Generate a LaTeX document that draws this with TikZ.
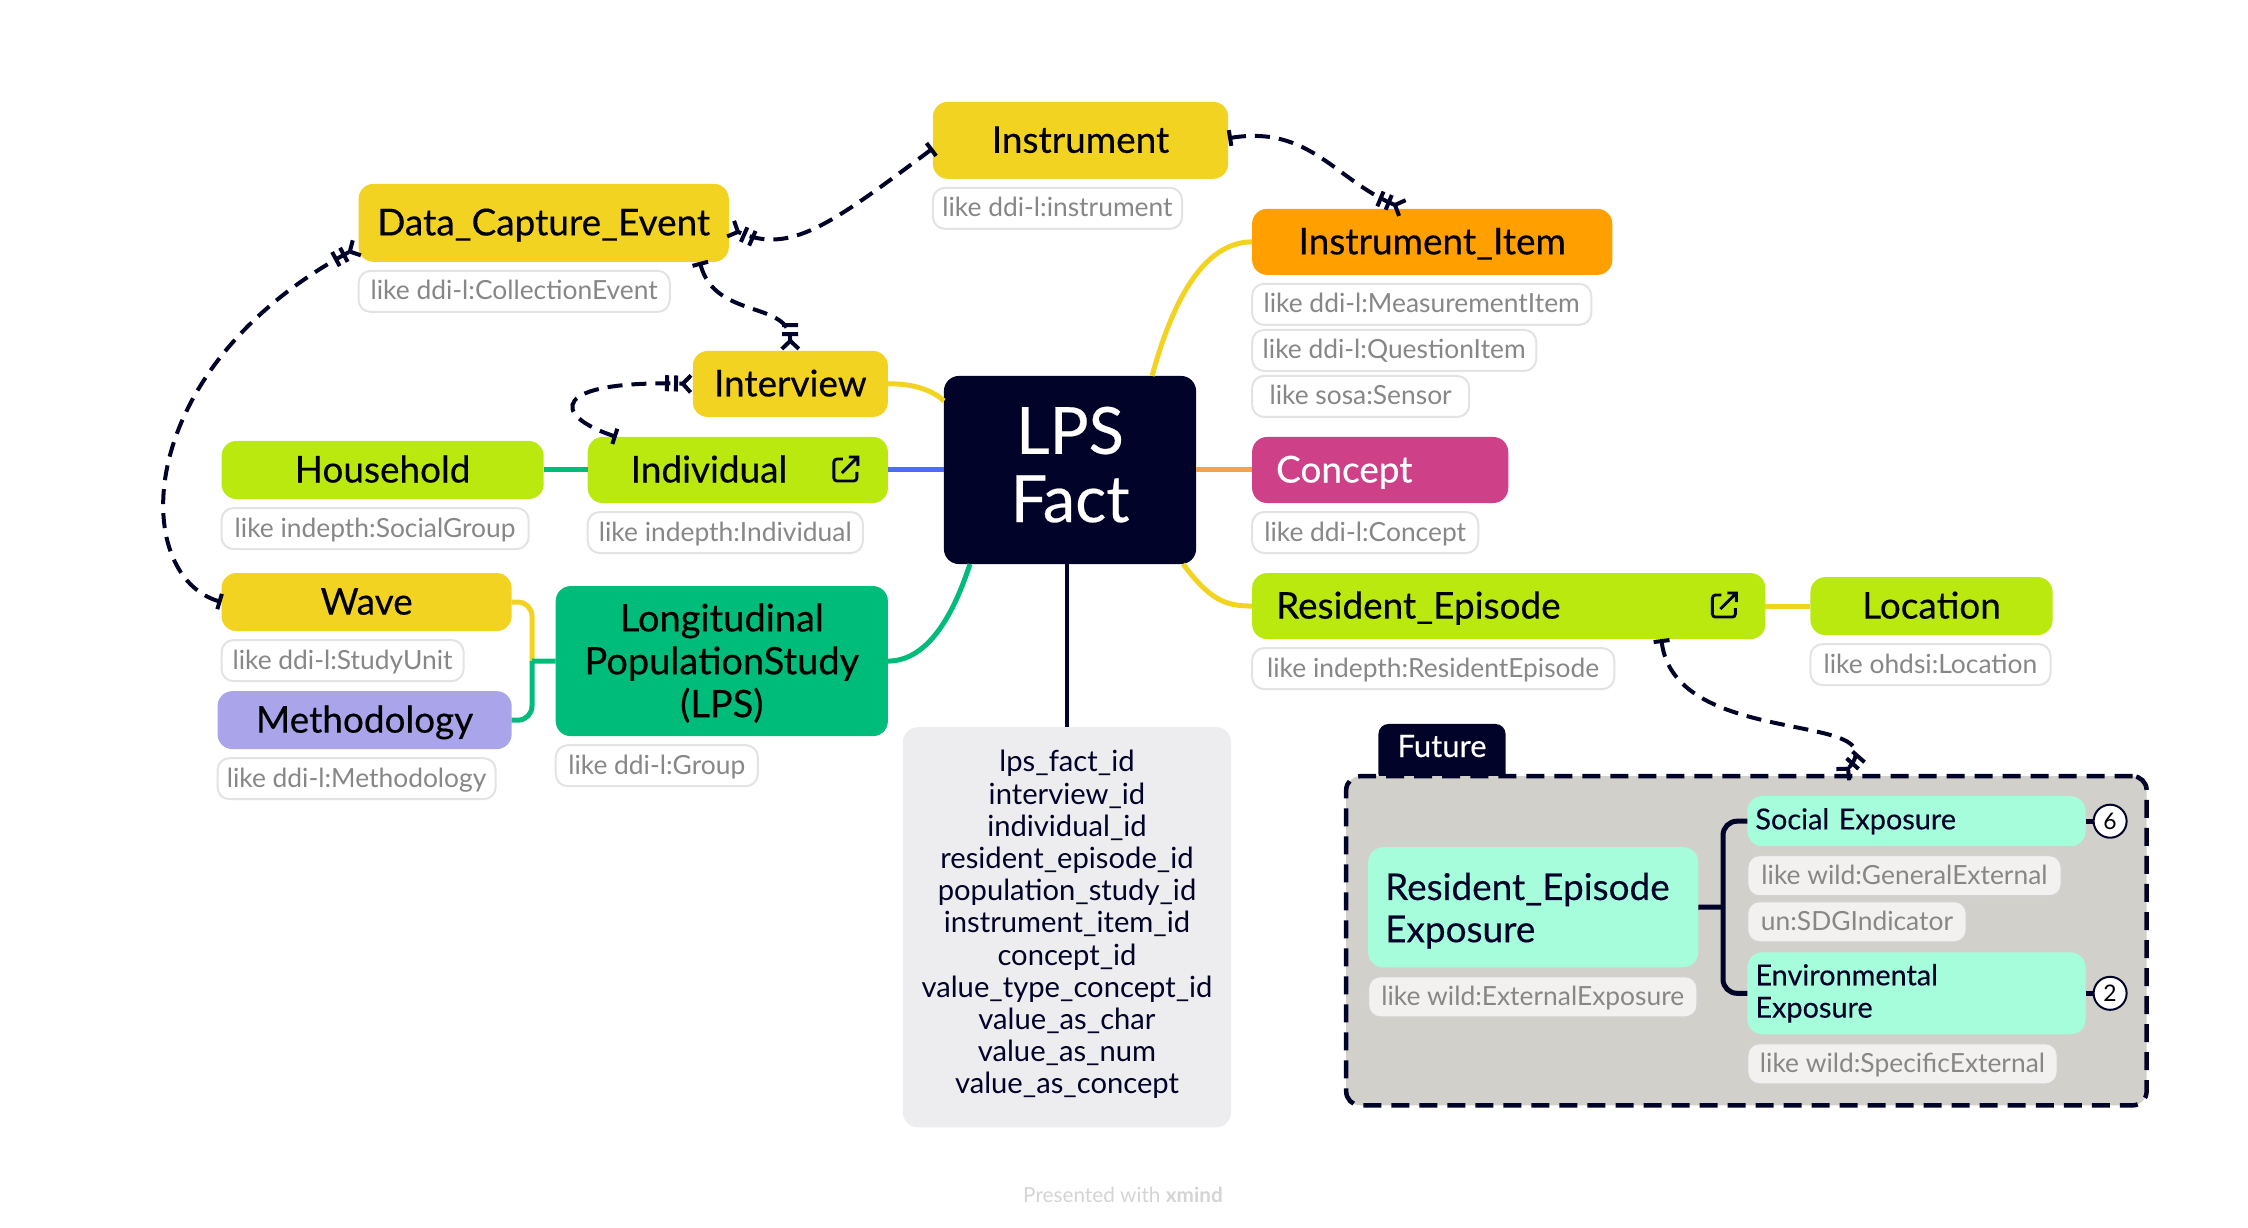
\documentclass[tikz,border=0pt]{standalone}
\usepackage{fontspec}
\setmainfont{Lato}
\newfontfamily\topicfont[FakeBold=0.35]{Lato}
\usetikzlibrary{positioning,arrows.meta}

\definecolor{navy}{HTML}{020329}
\definecolor{topicyellow}{HTML}{F3D321}
\definecolor{topiclime}{HTML}{B9E90E}
\definecolor{topicgreen}{HTML}{00BC7B}
\definecolor{topicorange}{HTML}{FF9F00}
\definecolor{topicpink}{HTML}{CE4189}
\definecolor{topicpurple}{HTML}{AAA5EB}
\definecolor{topicmint}{HTML}{A6FDDB}
\definecolor{linkblue}{HTML}{4D6BFF}
\definecolor{linkorange}{HTML}{F4A14E}
\definecolor{fieldgray}{HTML}{EDECEF}
\definecolor{framegray}{HTML}{D1D0CB}
\definecolor{notegray}{HTML}{F2F1EF}

\begin{document}
\begin{tikzpicture}[
x=.01cm,y=-.01cm,
crow/.tip={Bar[width=.16cm,length=.03cm,sep=.05cm]Bar[width=.16cm,length=.03cm,sep=.02cm]Straight Barb[reversed,length=.08cm,width=.17cm,sep=0pt]},
onebar/.tip={Bar[width=.16cm,length=.03cm]},
topic/.style={
fill=#1,
rounded corners=.15cm,
inner sep=0pt,
outer sep=0pt,
align=center,
font=\topicfont\fontsize{10.5}{12.2}\selectfont
},
linetopic/.style={
topic=#1,
text height=.25cm,
text depth=0pt
},
lefttopic/.style={
align=left,
text width=#1,
inner xsep=.24cm
},
note/.style={
draw=black!11,
fill=white,
line width=.02cm,
rounded corners=.12cm,
text=black!47,
inner sep=0pt,
outer sep=0pt,
minimum height=.41cm,
text height=.17cm,
text depth=0pt,
font=\fontsize{7.5}{9}\selectfont,
below=.09cm of #1,
anchor=north west
},
stacknote/.style={
note=#1,
below=.05cm of #1,
anchor=north west
},
darknote/.style={
draw=black!18,
fill=notegray
},
smalltopic/.style={
topic=topicmint,
text=navy,
align=left,
inner xsep=.08cm,
font=\topicfont\fontsize{8.2}{9.2}\selectfont
},
countmark/.style={
circle,
draw=navy,
fill=white,
line width=.02cm,
inner sep=0pt,
outer sep=0pt,
minimum size=.33cm,
font=\fontsize{6.5}{8}\selectfont
},
branch/.style={draw=#1,line width=.05cm},
relation/.style={
draw=navy,
line width=.04cm,
dash pattern=on .15cm off .09cm,
{onebar}-{crow}
},
exticon/.pic={
\draw[navy,line width=.028cm,rounded corners=.03cm] (-2,-11) -- (-11,-11) -- (-11,11) -- (12,11) -- (12,2);
\draw[navy,line width=.028cm] (-3,3) -- (13,-13) (4,-13) -- (13,-13) -- (13,-4);
}
]
\useasboundingbox (0,0) rectangle (2248,1228);

% Centre
\node[topic=navy, text=white, minimum width=2.52cm, minimum height=1.88cm,
font=\topicfont\fontsize{18.5}{19.4}\selectfont] (fact) at (1070,470) {LPS\\Fact\\[-.57cm]};

% Left side
\node[linetopic=topiclime, lefttopic=2.14cm, inner xsep=.43cm, minimum width=3cm, minimum height=.66cm, left=.56cm of fact] (individual) {Individual};
\node[linetopic=topiclime, minimum width=3.22cm, minimum height=.58cm, left=.44cm of individual] (household) {Household};
\node[linetopic=topicyellow, minimum width=1.95cm, minimum height=.66cm, above=.2cm of individual.north east, anchor=south east] (interview) {Interview};
\node[linetopic=topicyellow, minimum width=3.7cm, minimum height=.78cm, above right=1.79cm and 1.37cm of household.north west] (dce) {Data\_Capture\_Event};
\node[topic=topicgreen, minimum width=3.32cm, minimum height=1.5cm, font=\topicfont\fontsize{10.8}{12.2}\selectfont, below left=.22cm and .56cm of fact.south west] (lps) {\rule{0pt}{.32cm}Longitudinal\\PopulationStudy\\(LPS)};
\node[linetopic=topicyellow, minimum width=2.9cm, minimum height=.58cm, above left=.3cm and .44cm of lps.west] (wave) {Wave};
\node[linetopic=topicpurple, minimum width=2.94cm, minimum height=.58cm, below left=.3cm and .44cm of lps.west] (methodology) {Methodology};
\coordinate (lpsfork) at (532,661);

% Right side
\node[linetopic=topicorange, minimum width=3.6cm, minimum height=.66cm, above right=1.01cm and .56cm of fact.north east] (item) {Instrument\_Item};
\node[linetopic=topicyellow, minimum width=2.95cm, minimum height=.77cm, above left=.3cm and .24cm of item.north west] (instrument) {Instrument};
\node[linetopic=topicpink, text=white, lefttopic=2.08cm, minimum width=2.56cm, minimum height=.66cm, right=.56cm of fact] (concept) {Concept};
\node[linetopic=topiclime, lefttopic=4.65cm, minimum width=5.13cm, minimum height=.66cm, below right=.09cm and .56cm of fact.south east] (episode) {Resident\_Episode};
\node[linetopic=topiclime, minimum width=2.42cm, minimum height=.58cm, right=.45cm of episode] (location) {Location};

% Field list
\node[fill=fieldgray, rounded corners=.15cm, text=navy, align=center, minimum width=3.28cm, minimum height=4cm, inner sep=0pt, outer sep=0pt,
font=\fontsize{8.3}{9.16}\selectfont, below=1.63cm of fact.south, xshift=-.03cm] (fields)
{lps\_fact\_id\\interview\_id\\individual\_id\\resident\_episode\_id\\population\_study\_id\\instrument\_item\_id\\concept\_id\\value\_type\_concept\_id\\value\_as\_char\\value\_as\_num\\value\_as\_concept\\[-.22cm]};

% Notes
\node[note=dce.south west, minimum width=3.11cm] (dcenote) {like ddi-l:CollectionEvent};
\node[note=instrument.south west, minimum width=2.49cm] (instrumentnote) {like ddi-l:instrument};
\node[note=household.south west, minimum width=3.07cm] (householdnote) {like indepth:SocialGroup};
\node[note=individual.south west, minimum width=2.75cm] (individualnote) {like indepth:Individual};
\node[note=wave.south west, minimum width=2.42cm] (wavenote) {like ddi-l:StudyUnit};
\node[note=methodology.south west, minimum width=2.78cm] (methodologynote) {like ddi-l:Methodology};
\node[note=lps.south west, minimum width=2.02cm] (lpsnote) {like ddi-l:Group};
\node[note=item.south west, minimum width=3.39cm] (itemnotea) {like ddi-l:MeasurementItem};
\node[stacknote=itemnotea.south west, minimum width=2.84cm] (itemnoteb) {like ddi-l:QuestionItem};
\node[stacknote=itemnoteb.south west, minimum width=2.17cm] (itemnotec) {like sosa:Sensor};
\node[note=concept.south west, minimum width=2.26cm] (conceptnote) {like ddi-l:Concept};
\node[note=episode.south west, minimum width=3.62cm] (episodenote) {like indepth:ResidentEpisode};
\node[note=location.south west, minimum width=2.4cm] (locationnote) {like ohdsi:Location};

% Future group
\node[fill=navy, rounded corners=.1cm, text=white, inner sep=0pt, outer sep=0pt, minimum width=1.27cm, minimum height=.6cm, text height=.06cm, text depth=0pt, font=\topicfont\fontsize{8.8}{10}\selectfont] (future) at (1442,754) {Future};
\node[draw=navy, fill=framegray, rounded corners=.14cm, line width=.045cm, dash pattern=on .18cm off .1cm, minimum width=8cm, minimum height=3.29cm, inner sep=0pt, outer sep=0pt,
below right=1.37cm and .94cm of episode.south west] (frame) {};
\node[smalltopic, text width=2.96cm, inner xsep=.17cm, minimum height=1.2cm, font=\topicfont\fontsize{10.5}{12}\selectfont, below right=.71cm and .22cm of frame.north west] (exposure) {\rule{0pt}{.34cm}Resident\_Episode\\Exposure};
\node[smalltopic, text width=3.22cm, minimum height=.5cm, above right=.61cm and .49cm of exposure.east] (social) {Social Exposure};
\node[smalltopic, text width=3.22cm, minimum height=.82cm, below right=.45cm and .49cm of exposure.east] (environmental) {Environmental\\Exposure};
\coordinate (exposurefork) at (1723,907);
\node[note=exposure.south west, darknote, minimum width=3.29cm] (exposurenote) {like wild:ExternalExposure};
\node[note=social.south west, darknote, minimum width=3.14cm] (socialnote) {like wild:GeneralExternal};
\node[stacknote=socialnote.south west, darknote, minimum width=2.19cm] (sdgnote) {un:SDGIndicator};
\node[note=environmental.south west, darknote, minimum width=3.1cm] (environmentalnote) {like wild:SpecificExternal};
\node[countmark, right=.08cm of social] (socialcount) {6};
\node[countmark, right=.08cm of environmental] (environmentalcount) {2};

% Footer
\node[text=black!17, inner sep=0pt, font=\fontsize{5.9}{8}\selectfont] (footer) at (1123,1195) {Presented with \textbf{xmind}};

% Icons
\pic at ([xshift=-.43cm]individual.east) {exticon};
\pic at ([xshift=-.42cm]episode.east) {exticon};

% Branches
\draw[branch=topicyellow] (interview.east) .. controls (915,383) and (935,392) .. ([yshift=-.25cm]fact.north west);
\draw[branch=topicyellow] (item.west) .. controls (1200,242) and (1170,310) .. ([xshift=-.44cm]fact.north east);
\draw[branch=linkorange] (fact) -- (concept);
\draw[branch=linkblue] (fact) -- (individual);
\draw[branch=topicgreen] (household) -- (individual);
\draw[branch=topicgreen] (lps.east) .. controls (930,661) and (955,610) .. ([xshift=.26cm]fact.south west);
\draw[branch=topicyellow] ([xshift=-.13cm]fact.south east) .. controls (1210,600) and (1225,606) .. (episode.west);
\draw[branch=topicyellow] (episode) -- (location);
\draw[navy,line width=.045cm] (fields.north) -- (fields.north |- fact.south);

% Forks
\draw[branch=topicyellow,rounded corners=.14cm] (wave.east) -| (lpsfork);
\draw[branch=topicgreen,rounded corners=.14cm] (methodology.east) -| (lpsfork);
\draw[branch=topicgreen] (lpsfork) -- (lps.west);
\draw[branch=navy,rounded corners=.14cm] (social.west) -| (exposurefork);
\draw[branch=navy,rounded corners=.14cm] (environmental.west) -| (exposurefork);
\draw[branch=navy] (exposurefork) -- (exposure.east);
\draw[branch=navy] (social) -- (socialcount);
\draw[branch=navy] (environmental) -- (environmentalcount);

% Relations
\draw[relation] (wave.west) .. controls (130,575) and (130,370) .. ([yshift=.15cm]dce.south west);
\draw[relation] ([yshift=-.08cm]instrument.west) .. controls (830,225) and (790,255) .. ([yshift=-.05cm]dce.east);
\draw[relation] ([yshift=.02cm]instrument.east) .. controls (1310,125) and (1335,180) .. ([xshift=1.52cm]item.north west);
\draw[relation] ([xshift=-.29cm]dce.south east) .. controls (715,320) and (790,300) .. (interview.north);
\draw[relation] ([xshift=.29cm]individual.north west) .. controls (550,415) and (550,380) .. (interview.west);
\draw[relation] ([xshift=-1.04cm]episode.south east) .. controls (1675,750) and (1900,710) .. ([xshift=4.95cm]frame.north west);

\end{tikzpicture}
\end{document}
